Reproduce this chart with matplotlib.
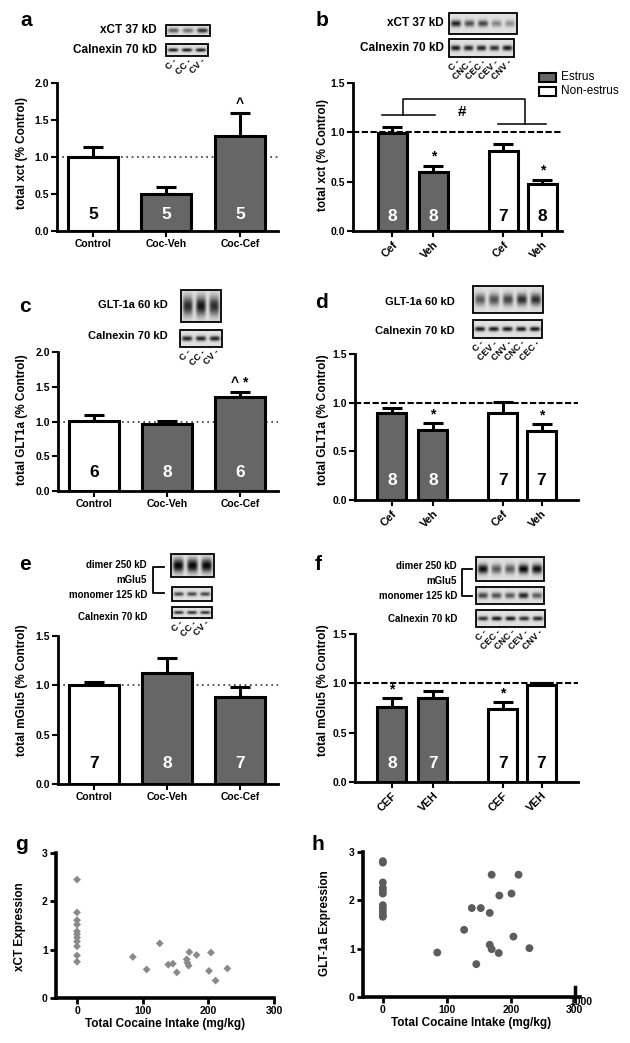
import numpy as np
import matplotlib
matplotlib.use('Agg')
import matplotlib.pyplot as plt
from matplotlib.patches import Rectangle

plt.rcParams['font.family'] = ['Liberation Sans', 'DejaVu Sans']
plt.rcParams['font.weight'] = 'bold'

# ---------------- data ----------------
grp_labels = ['Control', 'Coc-Veh', 'Coc-Cef']
grp_colors = ['white', '#666666', '#666666']

a_mean = [1.00, 0.50, 1.29]
a_sem = [0.13, 0.09, 0.31]
a_n = [5, 5, 5]

c_mean = [1.01, 0.96, 1.35]
c_sem = [0.09, 0.05, 0.08]
c_n = [6, 8, 6]

e_mean = [1.00, 1.13, 0.88]
e_sem = [0.03, 0.15, 0.10]
e_n = [7, 8, 7]

cycle_groups = ['Estrus', 'Estrus', 'Non-estrus', 'Non-estrus']
cycle_colors = ['#666666', '#666666', 'white', 'white']

b_labels = ['Cef', 'Veh', 'Cef', 'Veh']
b_mean = [0.99, 0.60, 0.81, 0.48]
b_sem = [0.06, 0.06, 0.07, 0.04]
b_n = [8, 8, 7, 8]

d_labels = ['Cef', 'Veh', 'Cef', 'Veh']
d_mean = [0.89, 0.72, 0.89, 0.71]
d_sem = [0.06, 0.07, 0.12, 0.07]
d_n = [8, 8, 7, 7]

f_labels = ['CEF', 'VEH', 'CEF', 'VEH']
f_mean = [0.76, 0.85, 0.74, 0.98]
f_sem = [0.09, 0.07, 0.07, 0.02]
f_n = [8, 7, 7, 7]

g_x = [0, 0, 0, 0, 0, 0, 0, 0, 0, 0, 0,
       85, 106, 126, 139, 146, 152, 167, 168, 170, 171, 182, 204, 201, 211, 229]
g_y = [2.45, 1.77, 1.61, 1.52, 1.38, 1.32, 1.25, 1.17, 1.07, 0.88, 0.75,
       0.85, 0.59, 1.13, 0.69, 0.71, 0.53, 0.80, 0.73, 0.67, 0.95, 0.89, 0.94, 0.56, 0.36, 0.61]

h_x = [0, 0, 0, 0, 0, 0, 0, 0, 0, 0, 0,
       85, 127, 139, 146, 153, 167, 167, 170, 170, 182, 181, 201, 204, 212, 229]
h_y = [2.81, 2.78, 2.37, 2.26, 2.20, 2.14, 1.90, 1.84, 1.77, 1.70, 1.66,
       0.92, 1.39, 1.84, 0.68, 1.84, 1.74, 1.08, 0.99, 2.53, 2.10, 0.91, 2.14, 1.25, 2.53, 1.01]

# ---------------- layout helpers ----------------
W, H = 630, 1043
fig = plt.figure(figsize=(W / 100, H / 100), dpi=100)


def rect(l, t, r, b):
    return [l / W, 1 - b / H, (r - l) / W, (b - t) / H]


ov = fig.add_axes([0, 0, 1, 1])
ov.set_zorder(10)
ov.patch.set_alpha(0)
ov.axis('off')

EDGE = 2.2


def style_axis(ax, lw=2.0):
    for s in ['top', 'right']:
        ax.spines[s].set_visible(False)
    for s in ['left', 'bottom']:
        ax.spines[s].set_linewidth(lw)
    ax.tick_params(direction='out', length=4, width=1.5, labelsize=7.5, pad=2)


def bar_panel(box, pos, means, sems, colors, ns, nys, labels, ymax, yticks,
              ylabel, ylab_xy, xlim, width, ref, rot=0, marks=None):
    ax = fig.add_axes(rect(*box))
    style_axis(ax)
    ax.bar(pos, means, width, color=colors, edgecolor='black',
           linewidth=EDGE, zorder=3)
    ax.errorbar(pos, means, yerr=[np.zeros(len(sems)), sems], fmt='none',
                ecolor='black', elinewidth=EDGE, capsize=7.5, capthick=EDGE,
                zorder=2)
    if ref == 'dot':
        ax.axhline(1.0, color='#333333', lw=1.2, ls=(0, (1, 2.2)), zorder=1)
    else:
        ax.axhline(1.0, color='black', lw=1.5, ls=(0, (3, 1.2)), zorder=1)
    for p, n, c in zip(pos, ns, colors):
        ax.text(p, nys, str(n), ha='center', va='center', fontsize=12.5,
                color='white' if c != 'white' else 'black', zorder=5)
    if marks:
        for i, sym in marks.items():
            ax.annotate(sym, (pos[i], means[i] + sems[i]), xytext=(0, 1.5),
                        textcoords='offset points', ha='center', va='bottom',
                        fontsize=10)
    ax.set_xlim(*xlim)
    ax.set_ylim(0, ymax)
    ax.set_yticks(yticks)
    ax.set_yticklabels(['%.1f' % v for v in yticks])
    ax.set_xticks(pos)
    if rot:
        ax.set_xticklabels(labels, rotation=45, ha='right',
                           rotation_mode='anchor', fontsize=8)
    else:
        ax.set_xticklabels(labels, fontsize=7.5)
    ax.set_ylabel(ylabel, fontsize=8.5, fontweight='bold')
    ax.yaxis.set_label_coords(ylab_xy[0], ylab_xy[1], transform=ov.transData)
    return ax


def blot(x0, y0, x1, y1, intens, sig=0.2, lane_w=0.75, bg=0.88, labels=None,
         lab_fs=6.5):
    n = len(intens)
    h, w = 48, 32 * n
    yy = np.linspace(0, 1, h)[:, None]
    xx = np.linspace(0, n, w)[None, :]
    dark = np.zeros((h, w))
    for i, v in enumerate(intens):
        gx = np.exp(-((xx - (i + 0.5)) / (lane_w * 0.5)) ** 4)
        gy = np.exp(-((yy - 0.5) / sig) ** 2)
        dark = np.maximum(dark, v * gx * gy)
    img = bg * (1 - dark)
    ov.imshow(img, cmap='gray', vmin=0, vmax=1, extent=(x0, x1, y1, y0),
              aspect='auto', interpolation='bilinear', zorder=5)
    ov.add_patch(Rectangle((x0, y0), x1 - x0, y1 - y0, fill=False,
                           ec='black', lw=1.3, zorder=6))
    if labels:
        step = (x1 - x0) / n
        for i, lab in enumerate(labels):
            ov.text(x0 + (i + 0.5) * step + 3, y1 + 4, lab + ' -', rotation=45,
                    ha='right', va='center', rotation_mode='anchor',
                    fontsize=lab_fs, zorder=7)


def bracket(xv, xh, yt, yb):
    ov.plot([xh, xv, xv, xh], [yt, yt, yb, yb], color='black', lw=1.3)


# ---------------- panel a ----------------
pos3 = [0, 1, 2]
bar_panel((57, 83, 278, 231), pos3, a_mean, a_sem, grp_colors, a_n, 0.22,
          grp_labels, 2.0, [0, 0.5, 1.0, 1.5, 2.0], 'total xct (% Control)',
          (28, 153), (-0.49, 2.52), 0.68, 'dot', marks={2: '^'})
ov.text(26, 20, 'a', fontsize=15, ha='center', va='center')
ov.text(157, 30, 'xCT 37 kD', fontsize=8.5, ha='right', va='center')
ov.text(157, 50, 'Calnexin 70 kD', fontsize=8.5, ha='right', va='center')
blot(166, 25, 210, 36, [0.6, 0.5, 0.8], sig=0.22)
blot(166, 44, 208, 56, [0.9, 0.9, 0.9], sig=0.15, labels=['C', 'CC', 'CV'])

# ---------------- panel b ----------------
pos4 = [0, 1, 2.7, 3.65]
bar_panel((353, 83, 562, 231), pos4, b_mean, b_sem, cycle_colors, b_n, 0.15,
          b_labels, 1.5, [0, 0.5, 1.0, 1.5], 'total xct (% Control)',
          (329, 155), (-0.96, 4.13), 0.71, 'dash', rot=45,
          marks={1: '*', 3: '*'})
ov.text(322, 20, 'b', fontsize=15, ha='center', va='center')
ov.text(444, 23, 'xCT 37 kD', fontsize=8.5, ha='right', va='center')
ov.text(444, 48, 'Calnexin 70 kD', fontsize=8.5, ha='right', va='center')
blot(449, 13, 517, 34, [0.85, 0.65, 0.7, 0.4, 0.35], sig=0.16)
blot(449, 39, 514, 57, [0.9, 0.85, 0.85, 0.8, 0.9], sig=0.15,
     labels=['C', 'CNC', 'CEC', 'CEV', 'CNV'])
# significance bracket
ov.plot([381.7, 435], [115, 115], color='black', lw=1.1)
ov.plot([497.7, 545.7], [124, 124], color='black', lw=1.1)
ov.plot([403.3, 403.3, 525, 525], [115, 99.3, 99.3, 124], color='black', lw=1.1)
ov.text(461.7, 112, '#', fontsize=11, ha='center', va='center')
# legend
for yy, fc, name in [(72.7, '#666666', 'Estrus'), (86.7, 'white', 'Non-estrus')]:
    ov.add_patch(Rectangle((539, yy), 17, 9, fc=fc, ec='black', lw=1.5))
    ov.text(561, yy + 4.7, name, fontsize=8.5, fontweight='normal',
            ha='left', va='center')

# ---------------- panel c ----------------
bar_panel((58, 352, 278, 491), pos3, c_mean, c_sem, grp_colors, c_n, 0.26,
          grp_labels, 2.0, [0, 0.5, 1.0, 1.5, 2.0], 'total GLT1a (% Control)',
          (28, 420), (-0.49, 2.52), 0.68, 'dot', marks={2: '^ *'})
ov.text(25, 307, 'c', fontsize=15, ha='center', va='center')
ov.text(168, 305, 'GLT-1a 60 kD', fontsize=8, ha='right', va='center')
ov.text(168, 336, 'Calnexin 70 kD', fontsize=8, ha='right', va='center')
blot(181, 290, 221, 322, [0.8, 0.9, 0.8], sig=0.3)
blot(180, 330, 222, 347, [0.85, 0.85, 0.85], sig=0.15, labels=['C', 'CC', 'CV'])

# ---------------- panel d ----------------
bar_panel((355, 354, 578, 500), pos4, d_mean, d_sem, cycle_colors, d_n, 0.2,
          d_labels, 1.5, [0, 0.5, 1.0, 1.5], 'total GLT1a (% Control)',
          (329, 420), (-0.9, 4.54), 0.71, 'dash', rot=45,
          marks={1: '*', 3: '*'})
ov.text(322, 302, 'd', fontsize=15, ha='center', va='center')
ov.text(455, 302, 'GLT-1a 60 kD', fontsize=8, ha='right', va='center')
ov.text(455, 331, 'Calnexin 70 kD', fontsize=8, ha='right', va='center')
blot(473, 286, 543, 313, [0.6, 0.65, 0.7, 0.8, 0.8], sig=0.22)
blot(473, 320, 542, 338, [0.9, 0.9, 0.9, 0.9, 0.9], sig=0.13,
     labels=['C', 'CEV', 'CNV', 'CNC', 'CEC'])

# ---------------- panel e ----------------
bar_panel((58, 636, 278, 784), pos3, e_mean, e_sem, grp_colors, e_n, 0.21,
          grp_labels, 1.5, [0, 0.5, 1.0, 1.5], 'total mGlu5 (% Control)',
          (28, 690), (-0.49, 2.52), 0.68, 'dot')
ov.text(25, 565, 'e', fontsize=15, ha='center', va='center')
ov.text(147, 565, 'dimer 250 kD', fontsize=7, ha='right', va='center')
ov.text(147, 580, 'mGlu5', fontsize=7, ha='right', va='center')
ov.text(147, 595, 'monomer 125 kD', fontsize=7, ha='right', va='center')
ov.text(147, 617, 'Calnexin 70 kD', fontsize=7, ha='right', va='center')
bracket(153.3, 164, 567.3, 592.7)
blot(171, 554, 214, 577, [0.97, 0.97, 0.97], sig=0.3)
blot(172, 587, 212, 601, [0.7, 0.7, 0.7], sig=0.15)
blot(172, 607, 212, 618, [0.8, 0.8, 0.8], sig=0.15, labels=['C', 'CC', 'CV'])

# ---------------- panel f ----------------
bar_panel((355, 634, 578, 782), pos4, f_mean, f_sem, cycle_colors, f_n, 0.19,
          f_labels, 1.5, [0, 0.5, 1.0, 1.5], 'total mGlu5 (% Control)',
          (329, 690), (-0.9, 4.54), 0.71, 'dash', rot=45,
          marks={0: '*', 2: '*'})
ov.text(318, 565, 'f', fontsize=15, ha='center', va='center')
ov.text(457, 566, 'dimer 250 kD', fontsize=7, ha='right', va='center')
ov.text(457, 581, 'mGlu5', fontsize=7, ha='right', va='center')
ov.text(457, 596, 'monomer 125 kD', fontsize=7, ha='right', va='center')
ov.text(457, 619, 'Calnexin 70 kD', fontsize=7, ha='right', va='center')
bracket(461.7, 471.7, 569.3, 596)
blot(476, 557, 544, 581, [0.95, 0.6, 0.6, 0.97, 0.95], sig=0.2)
blot(476, 587, 544, 604, [0.7, 0.65, 0.6, 0.85, 0.6], sig=0.18)
blot(476, 610, 545, 627, [0.8, 0.9, 0.9, 0.8, 0.85], sig=0.13,
     labels=['C', 'CEC', 'CNC', 'CEV', 'CNV'])


# ---------------- scatter panels ----------------
def scatter_panel(box, x, y, marker, color, size, xlim, ylabel, ylab_xy):
    ax = fig.add_axes(rect(*box))
    style_axis(ax, lw=2.6)
    ax.scatter(x, y, marker=marker, s=size, color=color, edgecolors='none',
               zorder=3)
    ax.set_xlim(*xlim)
    ax.set_ylim(0, 3)
    ax.set_yticks([0, 1, 2, 3])
    ax.set_xticks([0, 100, 200, 300])
    ax.tick_params(labelsize=7.5, length=4, width=2)
    ax.set_xlabel('Total Cocaine Intake (mg/kg)', fontsize=8.5,
                  fontweight='bold', labelpad=1)
    ax.set_ylabel(ylabel, fontsize=8.5, fontweight='bold')
    ax.yaxis.set_label_coords(ylab_xy[0], ylab_xy[1], transform=ov.transData)
    return ax


scatter_panel((56, 853, 274, 998), g_x, g_y, 'D', '#8a8a8a', 16, (-32, 300),
              'xCT Expression', (26, 927))
ov.text(22, 845, 'g', fontsize=15, ha='center', va='center')

axh = scatter_panel((363, 852, 580, 997), h_x, h_y, 'o', '#5c5c5c', 32,
                    (-31, 308), 'GLT-1a Expression', (331, 923))
axh.plot([300, 300], [0, 0.2], color='black', lw=2.5, clip_on=False, zorder=4)
ov.text(581, 1002, '1000', fontsize=7.5, ha='center', va='center')
ov.text(318, 845, 'h', fontsize=15, ha='center', va='center')

ov.set_xlim(0, W)
ov.set_ylim(H, 0)

fig.savefig('out.png', dpi=100)
